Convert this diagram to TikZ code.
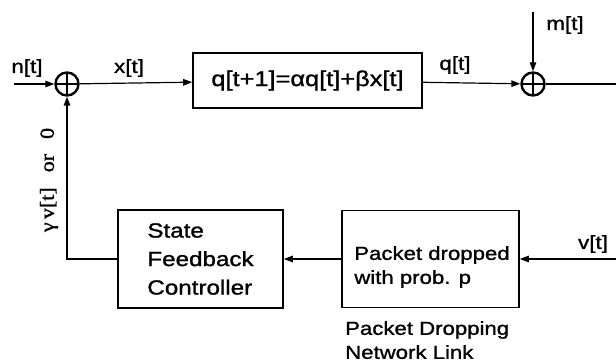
\documentclass[tikz,border=0pt]{standalone}
\usepackage{fontspec}
\setmainfont{Liberation Sans}[FakeStretch=1.18, FakeBold=1.2]
\newfontfamily\labelserif{Liberation Serif}[FakeStretch=1.1, FakeBold=1.2]
\usetikzlibrary{arrows.meta}

\newcommand{\eqfont}{\fontsize{21.5}{26}\selectfont}
\newcommand{\ctrlfont}{\fontsize{20.5}{28.5}\selectfont}
\newcommand{\linkfont}{\fontsize{18.8}{24}\selectfont}
\newcommand{\sigfont}{\fontsize{19}{22}\selectfont}

\tikzset{
  blk/.style={draw, line width=1.6pt, inner sep=0pt, minimum width=#1},
  sumjn/.style={draw, circle, line width=2.4pt, minimum size=23pt, inner sep=0pt,
    path picture={
      \draw[line width=2.4pt] (path picture bounding box.north) -- (path picture bounding box.south);
      \draw[line width=2.4pt] (path picture bounding box.west) -- (path picture bounding box.east);}},
  sig/.style={line width=1.2pt, -{Triangle[length=9pt,width=6.5pt]}},
  wire/.style={line width=1.2pt},
  siglabel/.style={inner sep=0pt, font=\sigfont},
}

\begin{document}
\begin{tikzpicture}[x=1pt, y=-1pt]
  \useasboundingbox (0,0) rectangle (616,363);

  % forward path
  \node[sumjn] (s1) at (67,84) {};
  \node[sumjn] (s2) at (533,84) {};
  \node[blk=229pt, minimum height=55pt, font=\eqfont] (plant) at (307.5,80.5)
       {q[t+1]=αq[t]+βx[t]};

  \coordinate (nin) at (14,84);
  \coordinate (min) at (533,12);
  \coordinate (qout) at (616,84);

  \draw[sig] (nin) -- (s1);
  \draw[sig] (s1) -- (plant);
  \draw[sig] (plant) -- (s2);
  \draw[sig] (min) -- (s2);
  \draw[wire] (s2) -- (qout);

  \node[siglabel] (nlab) at (27,68) {n[t]};
  \node[siglabel] (xlab) at (129,68) {x[t]};
  \node[siglabel] (qlab) at (455,65) {q[t]};
  \node[siglabel] (mlab) at (565,25) {m[t]};

  % feedback path
  \node[blk=165pt, minimum height=98pt, font=\ctrlfont, align=left] (ctrl) at (200.5,259)
       {State\\Feedback\\Controller};
  \node[blk=177pt, minimum height=97pt] (link) at (430.5,259) {};
  \node[font=\linkfont, align=left, inner sep=0pt] (linktxt) at (432,267)
       {Packet dropped\\with prob. p};

  \coordinate (vin) at (616,259);
  \draw[sig] (vin) -- (link);
  \draw[sig] (link) -- (ctrl);
  \draw[sig, line width=1.5pt] (ctrl.west) -| (s1.south);

  \node[siglabel] (vlab) at (593,244) {v[t]};
  \node[inner sep=0pt, rotate=90, font=\labelserif\fontsize{20}{22}\selectfont]
       (fblab) at (49,180) {γ\,v[t]\hspace{15pt}or\hspace{15pt}0};

  \node[font=\linkfont, align=left, inner sep=0pt, anchor=north west] (linkcap) at (345,321)
       {Packet Dropping\\Network Link};
\end{tikzpicture}
\end{document}
